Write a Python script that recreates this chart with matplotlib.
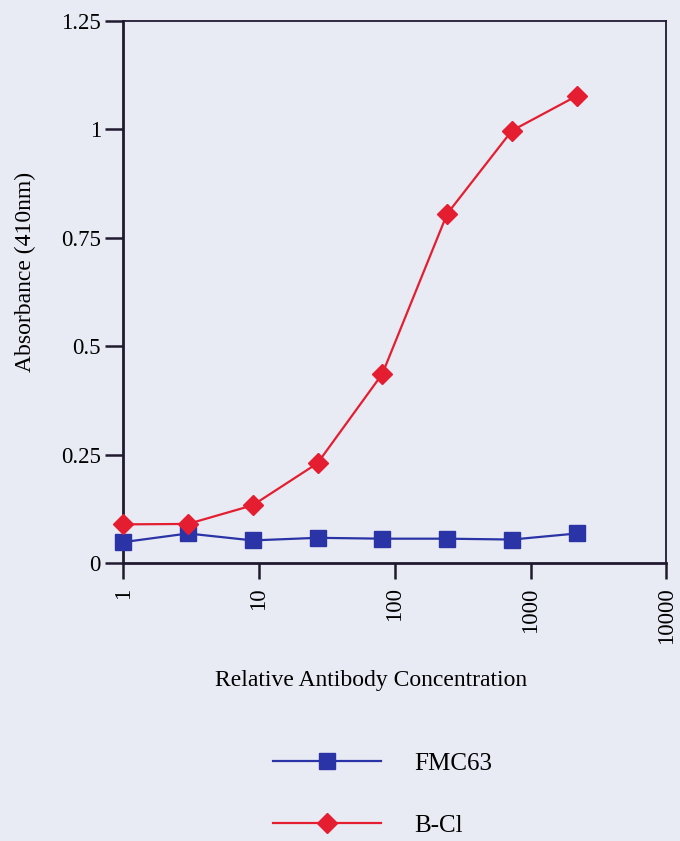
import matplotlib
matplotlib.use("Agg")
import matplotlib.pyplot as plt
from matplotlib.ticker import FixedLocator, NullLocator

plt.rcParams['font.family'] = ['Liberation Serif', 'DejaVu Serif']

# three-fold dilution series
conc = [1, 3, 9, 27, 81, 243, 729, 2187]
fmc63 = [0.048, 0.068, 0.052, 0.058, 0.056, 0.056, 0.054, 0.068]
bcl = [0.089, 0.090, 0.133, 0.230, 0.436, 0.805, 0.997, 1.077]

xticks = [1, 10, 100, 1000, 10000]
xticklabels = ['1', '10', '100', '1000', '10000']
yticks = [0, 0.25, 0.5, 0.75, 1, 1.25]
yticklabels = ['0', '0.25', '0.5', '0.75', '1', '1.25']

bg = '#E9EBF4'
blue = '#2A34A6'
red = '#E41E30'
ink = '#201a30'

fig = plt.figure(figsize=(6.8, 8.41), dpi=100, facecolor=bg)
ax = fig.add_axes([0.181, 0.3306, 0.799, 0.6445], facecolor=bg)

l1, = ax.plot(conc, fmc63, color=blue, lw=1.6, marker='s', ms=12,
              mfc=blue, mec=blue, label='FMC63', clip_on=False, zorder=3)
l2, = ax.plot(conc, bcl, color=red, lw=1.6, marker='D', ms=10,
              mfc=red, mec=red, label='B-Cl', clip_on=False, zorder=4)

ax.set_xscale('log')
ax.set_xlim(1, 10000)
ax.set_ylim(0, 1.25)
ax.xaxis.set_major_locator(FixedLocator(xticks))
ax.xaxis.set_minor_locator(NullLocator())
ax.set_xticklabels(xticklabels, rotation=90, fontsize=16.5)
ax.set_yticks(yticks)
ax.set_yticklabels(yticklabels, fontsize=16.5)

ax.tick_params(direction='out', width=1.8, color=ink)
ax.tick_params(axis='y', length=13, pad=3)
ax.tick_params(axis='x', length=11.5, pad=6)
for side in ['left', 'bottom']:
    ax.spines[side].set_linewidth(2.0)
for side in ['top', 'right']:
    ax.spines[side].set_linewidth(1.3)
for sp in ax.spines.values():
    sp.set_color(ink)

fig.text(0.546, 0.1914, 'Relative Antibody Concentration', ha='center',
         va='center', fontsize=17)
fig.text(0.037, 0.6766, 'Absorbance (410nm)', ha='center', va='center',
         rotation=90, fontsize=17)

fig.legend(handles=[l1, l2], loc='center left',
           bbox_to_anchor=(0.369, 0.055), frameon=False, fontsize=18,
           handlelength=4.32, handletextpad=1.3, labelspacing=1.6)

fig.savefig('out.png', dpi=100, facecolor=bg)
